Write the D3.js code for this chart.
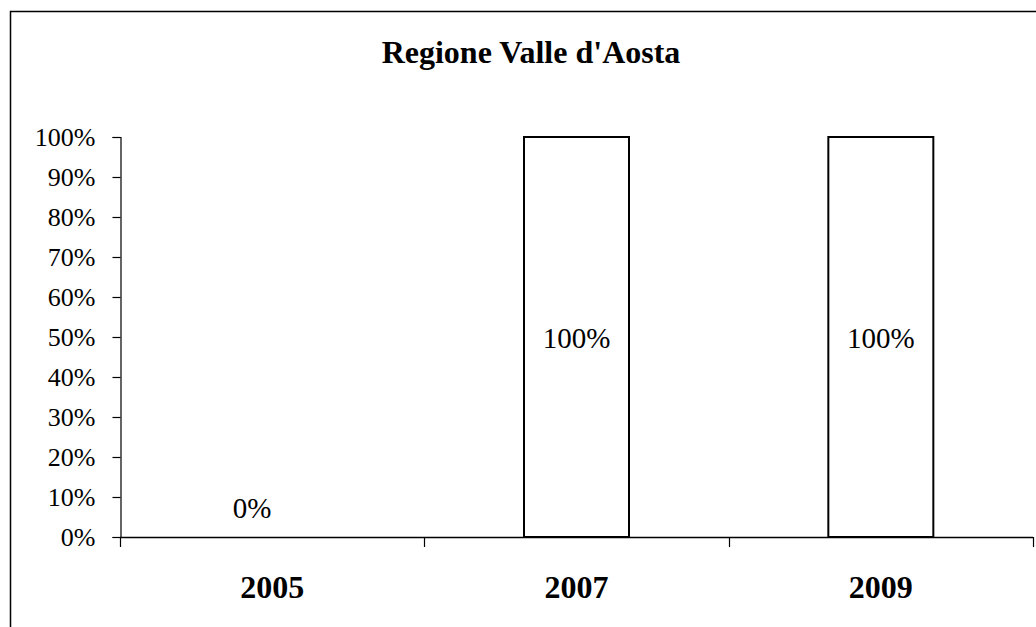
<!DOCTYPE html>
<html>
<head>
<meta charset="utf-8">
<script src="https://cdn.jsdelivr.net/npm/d3@7"></script>
<style>
  body { margin: 0; background: #fff; }
  svg { display: block; font-family: "Liberation Serif", "Times New Roman", serif; }
</style>
</head>
<body>
<svg id="svg" width="1036" height="627"></svg>
<script>
// data
const years = ["2005", "2007", "2009"];
const shares = [0, 1, 1];
const yTicks = [0, 0.1, 0.2, 0.3, 0.4, 0.5, 0.6, 0.7, 0.8, 0.9, 1];
const title = "Regione Valle d'Aosta";

const svg = d3.select("#svg");

// outer frame, runs off the right and bottom edge like the original
svg.append("rect")
  .attr("x", 10.5).attr("y", 11.5)
  .attr("width", 1100).attr("height", 700)
  .attr("fill", "none").attr("stroke", "#000").attr("stroke-width", 1.5);

svg.append("text")
  .attr("x", 531).attr("y", 63)
  .attr("text-anchor", "middle")
  .attr("font-size", 32).attr("font-weight", "bold")
  .text(title);

const x = d3.scaleBand().domain(years).range([120, 1033]).paddingInner(0.655).paddingOuter(0.3275);
const xCat = d3.scaleBand().domain(years).range([120, 1033]);
const y = d3.scaleLinear().domain([0, 1]).range([537, 137]);

// y axis
const yAxis = svg.append("g")
  .attr("transform", "translate(120.5,0)")
  .call(d3.axisLeft(y).tickValues(yTicks).tickFormat(d3.format(".0%")).tickSize(8).tickPadding(17));
yAxis.select(".domain").attr("stroke", "#000").attr("stroke-width", 1.2);
yAxis.selectAll(".tick line").attr("stroke", "#000").attr("stroke-width", 1.2);
yAxis.selectAll(".tick text")
  .attr("font-family", "Liberation Serif, serif")
  .attr("font-size", 26).attr("fill", "#000");

// x axis: ticks on category boundaries
svg.append("line")
  .attr("x1", 120).attr("x2", 1033)
  .attr("y1", y(0) + 0.5).attr("y2", y(0) + 0.5)
  .attr("stroke", "#000").attr("stroke-width", 1.5);
const bounds = years.map(d => xCat(d)).concat([xCat.range()[1]]);
svg.selectAll(".xtick").data(bounds).enter().append("line")
  .attr("class", "xtick")
  .attr("x1", d => Math.round(d) + 0.5).attr("x2", d => Math.round(d) + 0.5)
  .attr("y1", y(0)).attr("y2", y(0) + 10)
  .attr("stroke", "#000").attr("stroke-width", 1.2);

svg.selectAll(".xlab").data(years).enter().append("text")
  .attr("class", "xlab")
  .attr("x", d => xCat(d) + xCat.bandwidth() / 2)
  .attr("y", 598)
  .attr("text-anchor", "middle")
  .attr("font-size", 32).attr("font-weight", "bold")
  .text(d => d);

// bars
const data = years.map((d, i) => ({ year: d, value: shares[i] }));
svg.selectAll(".bar").data(data.filter(d => d.value > 0)).enter().append("rect")
  .attr("class", "bar")
  .attr("x", d => x(d.year))
  .attr("y", d => y(d.value))
  .attr("width", x.bandwidth())
  .attr("height", d => y(0) - y(d.value))
  .attr("fill", "#fff").attr("stroke", "#000").attr("stroke-width", 2);

// value labels
svg.selectAll(".vlab").data(data).enter().append("text")
  .attr("class", "vlab")
  .attr("x", d => x(d.year) + x.bandwidth() / 2 + (d.value > 0 ? 0 : -20))
  .attr("y", d => d.value > 0 ? (y(d.value) + y(0)) / 2 + 11 : y(0) - 19)
  .attr("text-anchor", "middle")
  .attr("font-size", 29)
  .text(d => d3.format(".0%")(d.value));
</script>
</body>
</html>
